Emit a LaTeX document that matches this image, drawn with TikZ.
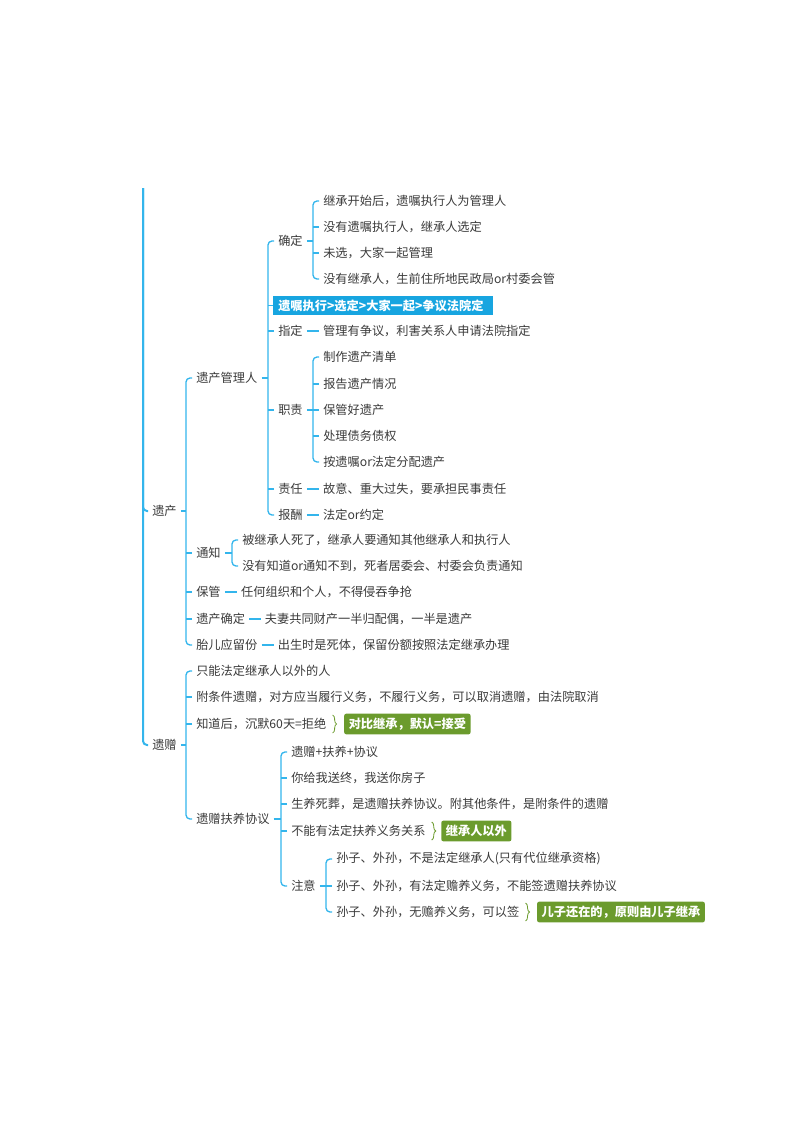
\documentclass[tikz,border=0pt]{standalone}
\usepackage{fontspec}
\setmainfont{Noto Sans CJK SC}
\usetikzlibrary{positioning,decorations.pathreplacing,calc}
\definecolor{linecyan}{HTML}{33B5EC}
\definecolor{boxcyan}{HTML}{17A5E0}
\definecolor{tipgreen}{HTML}{6B9B2D}
\definecolor{textgray}{HTML}{3A3A3A}

\begin{document}
\begin{tikzpicture}[
    x=0.75pt, y=-0.75pt,
    every node/.style={font=\fontsize{9.15pt}{11pt}\selectfont, text=textgray, anchor=west, inner xsep=3pt, inner ysep=1pt},
    link/.style={draw=linecyan, line width=1pt, rounded corners=3pt},
    rootlink/.style={link, line width=1.5pt},
    highlight/.style={fill=boxcyan, text=white, font=\fontsize{9.15pt}{11pt}\selectfont\bfseries, inner xsep=3.75pt, minimum height=14.25pt},
    tip/.style={fill=tipgreen, text=white, font=\fontsize{9.15pt}{11pt}\selectfont\bfseries, rounded corners=1.5pt, inner xsep=3.4pt, minimum height=15.5pt},
    bracebar/.style={draw=tipgreen, line width=0.6pt, decorate, decoration={brace, amplitude=3pt}}
]
\useasboundingbox (0,0) rectangle (800,1132);

% Root
\coordinate (roottop) at (143,188);
\node (yichan) at (148,511) {遗产};
\node (yizeng) at (148,745) {遗赠};

% 遗产管理人
\node (guanli) at (192,378) {遗产管理人};
\node (queding) at (274,241) {确定};
\node (qd1) at (319,201) {继承开始后，遗嘱执行人为管理人};
\node (qd2) at (319,227) {没有遗嘱执行人，继承人选定};
\node (qd3) at (319,253) {未选，大家一起管理};
\node (qd4) at (319,279) {没有继承人，生前住所地民政局or村委会管};
\node[highlight] (shunxu) at (273,305.5) {\makebox[157.5pt][l]{遗嘱执行>选定>大家一起>争议法院定}};
\node (zhiding) at (274,331) {指定};
\node[right=9pt of zhiding] (zhiding1) {管理有争议，利害关系人申请法院指定};

% 职责
\node (zhize) at (274,410) {职责};
\node (zz1) at (319,357) {制作遗产清单};
\node (zz2) at (319,384) {报告遗产情况};
\node (zz3) at (319,410) {保管好遗产};
\node (zz4) at (319,436) {处理债务债权};
\node (zz5) at (319,462) {按遗嘱or法定分配遗产};
\node (zeren) at (274,489) {责任};
\node[right=9pt of zeren] (zeren1) {故意、重大过失，要承担民事责任};
\node (baochou) at (274,515) {报酬};
\node[right=9pt of baochou] (baochou1) {法定or约定};

% 通知 / 保管 / 遗产确定 / 胎儿应留份
\node (tongzhi) at (192,553) {通知};
\node (tz1) at (238,540) {被继承人死了，继承人要通知其他继承人和执行人};
\node (tz2) at (238,566) {没有知道or通知不到，死者居委会、村委会负责通知};
\node (baoguan) at (192,592) {保管};
\node[right=9pt of baoguan] (baoguan1) {任何组织和个人，不得侵吞争抢};
\node (caichan) at (192,619) {遗产确定};
\node[right=8.5pt of caichan] (caichan1) {夫妻共同财产一半归配偶，一半是遗产};
\node (taier) at (192,645) {胎儿应留份};
\node[right=9pt of taier] (taier1) {出生时是死体，保留份额按照法定继承办理};

% 遗赠
\node (yz1) at (192,671) {只能法定继承人以外的人};
\node (yz2) at (192,697) {附条件遗赠，对方应当履行义务，不履行义务，可以取消遗赠，由法院取消};
\node (yz3) at (192,724) {知道后，沉默60天=拒绝};
\node[tip, right=10pt of yz3] (yz3tip) {对比继承，默认=接受};
\node (fuyang) at (192,819) {遗赠扶养协议};
\node (fy1) at (287,752) {遗赠+扶养+协议};
\node (fy2) at (287,778) {你给我送终，我送你房子};
\node (fy3) at (287,804) {生养死葬，是遗赠扶养协议。附其他条件，是附条件的遗赠};
\node (fy4) at (287,831) {不能有法定扶养义务关系};
\node[tip, right=8.5pt of fy4] (fy4tip) {继承人以外};
\node (zhuyi) at (287,886) {注意};
\node (zy1) at (332,859) {孙子、外孙，不是法定继承人(只有代位继承资格)};
\node (zy2) at (332,886) {孙子、外孙，有法定赡养义务，不能签遗赠扶养协议};
\node (zy3) at (332,912) {孙子、外孙，无赡养义务，可以签};
\node[tip, right=10pt of zy3] (zy3tip) {儿子还在的，原则由儿子继承};

% Connections: root
\draw[rootlink] (roottop) |- (yichan.west);
\draw[rootlink] (roottop) |- (yizeng.west);

% 遗产
\draw[link] (yichan.east) -- ([xshift=-4.5pt]yichan.east -| guanli.west);
\draw[link] (guanli.west) -- ++(-6,0) |- (taier.west);
\foreach \c in {tongzhi,baoguan,caichan}
    \draw[link] (\c.west) -- ++(-6,0);

% 遗产管理人
\draw[link] (guanli.east) -- ([xshift=-4.5pt]guanli.east -| queding.west);
\draw[link] (queding.west) -- ++(-6,0) |- (baochou.west);
\draw[link] (shunxu.west) -- ++(-5,0);
\foreach \c in {zhiding,zhize,zeren}
    \draw[link] (\c.west) -- ++(-6,0);

% 确定
\draw[link] (queding.east) -- ([xshift=-4.5pt]queding.east -| qd1.west);
\draw[link] (qd1.west) -- ++(-6,0) |- (qd4.west);
\foreach \c in {qd2,qd3}
    \draw[link] (\c.west) -- ++(-6,0);

% 职责
\draw[link] (zhize.east) -- ([xshift=-4.5pt]zhize.east -| zz1.west);
\draw[link] (zz1.west) -- ++(-6,0) |- (zz5.west);
\foreach \c in {zz2,zz3,zz4}
    \draw[link] (\c.west) -- ++(-6,0);

% 通知
\draw[link] (tongzhi.east) -- ([xshift=-4.5pt]tongzhi.east -| tz1.west);
\draw[link] (tz1.west) -- ++(-6,0) |- (tz2.west);

% 遗赠
\draw[link] (yizeng.east) -- ([xshift=-4.5pt]yizeng.east -| yz1.west);
\draw[link] (yz1.west) -- ++(-6,0) |- (fuyang.west);
\foreach \c in {yz2,yz3}
    \draw[link] (\c.west) -- ++(-6,0);

% 遗赠扶养协议
\draw[link] (fuyang.east) -- ([xshift=-4.5pt]fuyang.east -| fy1.west);
\draw[link] (fy1.west) -- ++(-6,0) |- (zhuyi.west);
\foreach \c in {fy2,fy3,fy4}
    \draw[link] (\c.west) -- ++(-6,0);

% 注意
\draw[link] (zhuyi.east) -- ([xshift=-4.5pt]zhuyi.east -| zy1.west);
\draw[link] (zy1.west) -- ++(-6,0) |- (zy3.west);
\draw[link] (zy2.west) -- ++(-6,0);

% single children
\draw[link] (zhiding) -- (zhiding1);
\draw[link] (zeren) -- (zeren1);
\draw[link] (baochou) -- (baochou1);
\draw[link] (baoguan) -- (baoguan1);
\draw[link] (caichan) -- (caichan1);
\draw[link] (taier) -- (taier1);

% Braces to the notes
\draw[bracebar] ($(yz3.east)+(2,-9)$) -- ($(yz3.east)+(2,9)$);
\draw[bracebar] ($(fy4.east)+(2,-9)$) -- ($(fy4.east)+(2,9)$);
\draw[bracebar] ($(zy3.east)+(2,-9)$) -- ($(zy3.east)+(2,9)$);

\end{tikzpicture}
\end{document}
